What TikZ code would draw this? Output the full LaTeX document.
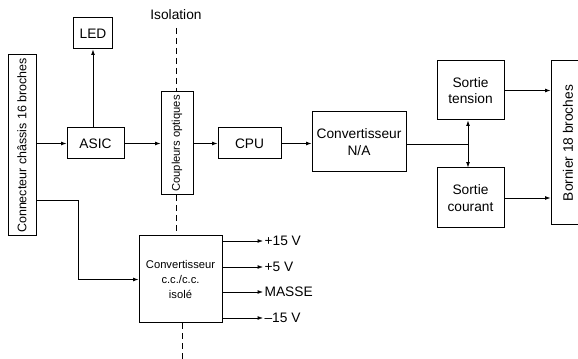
\documentclass[tikz,border=0pt]{standalone}
\usepackage{fontspec}
\setmainfont{Liberation Sans}
\usetikzlibrary{arrows.meta}

\tikzset{
  blk/.style={draw, line width=0.75, inner sep=0pt, align=center, font=\fontsize{10.3}{12.5}\selectfont},
  petit/.style={font=\fontsize{8.4}{11}\selectfont},
  lbl/.style={inner sep=1pt, font=\fontsize{10.3}{12.5}\selectfont},
  fl/.style={-{Latex[length=4pt,width=2.8pt]}, line width=0.5},
  iso/.style={line width=0.75, dash pattern=on 4.5pt off 3pt},
}

\begin{document}
\begin{tikzpicture}[x=0.75pt,y=0.75pt,yscale=-1,xscale=1]
  \useasboundingbox (0,0) rectangle (578,359);

  % Blocs
  \node [blk, rotate=90, minimum width=135.75pt, minimum height=21pt, font=\fontsize{9.35}{11}\selectfont] (con) at (22,145.5) {Connecteur châssis 16 broches};
  \node [blk, minimum width=29.25pt, minimum height=23.25pt] (led) at (93,33.5) {LED};
  \node [blk, minimum width=42.75pt, minimum height=23.25pt] (asic) at (95.5,143.5) {ASIC};
  \node [blk, petit, rotate=90, minimum width=77.25pt, minimum height=24pt] (coup) at (177,143.5) {Coupleurs optiques};
  \node [blk, minimum width=47.25pt, minimum height=23.25pt] (cpu) at (249.5,143.5) {CPU};
  \node [blk, minimum width=70.5pt, minimum height=45pt] (cna) at (359,142) {Convertisseur\\N/A};
  \node [blk, minimum width=50.25pt, minimum height=44.25pt] (tens) at (470.5,90.5) {Sortie\\tension};
  \node [blk, minimum width=50.25pt, minimum height=45pt] (cour) at (470.5,198) {Sortie\\courant};
  \node [blk, rotate=90, minimum width=123pt, minimum height=25.5pt] (born) at (568,143) {Bornier 18 broches};
  \node [blk, petit, minimum width=62.25pt, minimum height=65.25pt] (cc) at (180.5,279.5) {Convertisseur\\c.c./c.c.\\isolé};

  % Isolation
  \node [lbl] (isol) at (176,15) {Isolation};
  \coordinate (isoT) at (176,28);
  \coordinate (isoB) at (182,359);
  \draw [iso] (isoT) -- (isoT |- coup.east);
  \draw [iso] (isoT |- coup.west) -- (isoT |- cc.north);
  \draw [iso] (isoB |- cc.south) -- (isoB);

  % Liaisons
  \draw [fl] (con.south |- asic) -- (asic.west);
  \draw [fl] (asic.north -| led) -- (led.south);
  \draw [fl] (asic.east) -- (coup.north |- asic);
  \draw [fl] (coup.south |- cpu) -- (cpu.west);
  \draw [fl] (cpu.east) -- (cna.west |- cpu);
  \coordinate (jn) at (468,144);
  \draw [line width=0.5] (cna.east |- jn) -- (jn);
  \draw [fl] (jn) -- (tens.south -| jn);
  \draw [fl] (jn) -- (cour.north -| jn);
  \draw [fl] (tens.east) -- (born.north |- tens);
  \draw [fl] (cour.east) -- (born.north |- cour);
  \coordinate (cb) at (78,200);
  \draw [fl] (con.south |- cb) -- (cb) |- (cc.west);

  % Sorties alimentation
  \node [lbl, anchor=west] (p15) at (263,241) {+15 V};
  \node [lbl, anchor=west] (p5) at (263,267) {+5 V};
  \node [lbl, anchor=west] (gnd) at (263,292) {MASSE};
  \node [lbl, anchor=west] (m15) at (263,318) {–15 V};
  \foreach \s in {p15,p5,gnd,m15}
    \draw [fl] (cc.east |- \s) -- (\s.west);
\end{tikzpicture}
\end{document}
